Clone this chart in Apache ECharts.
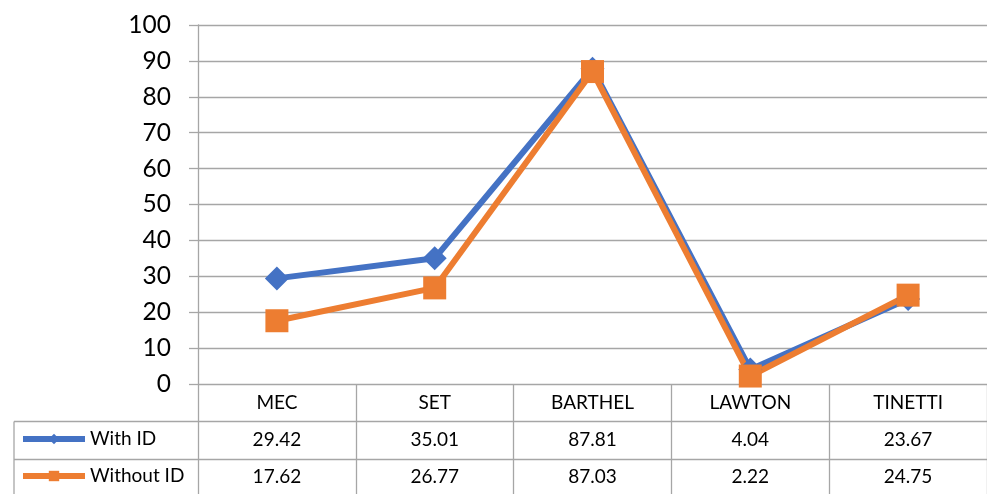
<!DOCTYPE html>
<html><head><meta charset="utf-8">
<script src="https://cdn.jsdelivr.net/npm/echarts@6/dist/echarts.min.js"></script>
<style>html,body{margin:0;padding:0;background:#fff}#c{width:987px;height:494px}</style>
</head><body><div id="c"></div><script>
const categories = ['MEC', 'SET', 'BARTHEL', 'LAWTON', 'TINETTI'];
const withID = [29.42, 35.01, 87.81, 4.04, 23.67];
const withoutID = [17.62, 26.77, 87.03, 2.22, 24.75];
const seriesNames = ['With ID', 'Without ID'];
const yMin = 0, yMax = 100, yInterval = 10;

const FONT = 'Lato, "Open Sans", sans-serif';
const GRID = '#a6a6a6';
const BLUE = '#4472C4';
const ORANGE = '#ED7D31';
const gridBox = { left: 198, right: -2, top: 25, bottom: 110 };

const chart = echarts.init(document.getElementById('c'));
const hiddenY = i => ({ type: 'value', gridIndex: i, min: yMin, max: yMax, interval: yInterval, show: false });
const rowAxis = (i, data, margin) => ({
  type: 'category', gridIndex: i, data: data, boundaryGap: true,
  axisLine: { show: false }, axisTick: { show: false }, splitLine: { show: false },
  axisLabel: { interval: 0, margin: margin, verticalAlign: 'middle', fontSize: 19, color: '#000', fontFamily: FONT }
});
const legendBox = (name, top) => ({
  data: [name], left: 20, top: top, padding: 0, itemWidth: 62, itemHeight: 13,
  lineStyle: { width: 6 },
  textStyle: { fontSize: 19, color: '#000', fontFamily: FONT, lineHeight: 22 }
});
chart.setOption({
  animation: false,
  backgroundColor: '#fff',
  grid: [Object.assign({}, gridBox), Object.assign({}, gridBox), Object.assign({}, gridBox)],
  xAxis: [
    {
      type: 'category', gridIndex: 0, data: categories, boundaryGap: true,
      axisLine: { show: false },
      axisTick: { show: true, interval: 0, length: 110, lineStyle: { color: GRID, width: 1.3 } },
      axisLabel: { interval: 0, margin: 19, verticalAlign: 'middle', fontSize: 19, color: '#000', fontFamily: FONT }
    },
    rowAxis(1, withID.map(v => v.toFixed(2)), 56),
    rowAxis(2, withoutID.map(v => v.toFixed(2)), 93)
  ],
  yAxis: [
    {
      type: 'value', gridIndex: 0, min: yMin, max: yMax, interval: yInterval,
      axisLine: { show: true, lineStyle: { color: GRID, width: 1.3 } },
      axisTick: { show: true, length: 9, lineStyle: { color: GRID, width: 1.3 } },
      splitLine: { show: true, lineStyle: { color: GRID, width: 1.3 } },
      axisLabel: { margin: 27, fontSize: 24.5, color: '#000', fontFamily: FONT }
    },
    hiddenY(1), hiddenY(2)
  ],
  legend: [legendBox(seriesNames[0], 428), legendBox(seriesNames[1], 465)],
  series: [
    { name: seriesNames[0], type: 'line', data: withID, symbol: 'diamond', symbolSize: 24,
      itemStyle: { color: BLUE }, lineStyle: { color: BLUE, width: 6 } },
    { name: seriesNames[1], type: 'line', data: withoutID, symbol: 'rect', symbolSize: 23,
      itemStyle: { color: ORANGE }, lineStyle: { color: ORANGE, width: 6 } }
  ],
  graphic: [
    { type: 'line', shape: { x1: 14, y1: 421.5, x2: 990, y2: 421.5 }, style: { stroke: GRID, lineWidth: 1.3 } },
    { type: 'line', shape: { x1: 14, y1: 459.5, x2: 990, y2: 459.5 }, style: { stroke: GRID, lineWidth: 1.3 } },
    { type: 'line', shape: { x1: 14, y1: 421.5, x2: 14, y2: 494 }, style: { stroke: GRID, lineWidth: 1.3 } }
  ]
});
</script></body></html>
